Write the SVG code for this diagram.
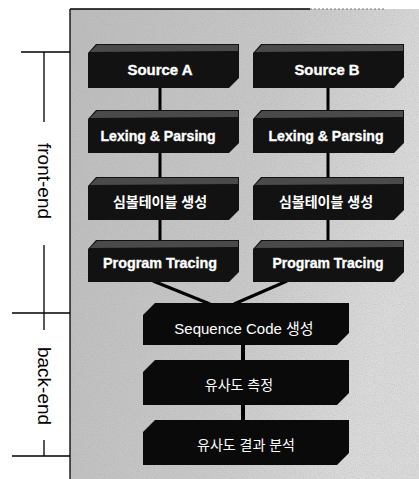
<svg xmlns="http://www.w3.org/2000/svg" width="419" height="479" viewBox="0 0 419 479">
<defs>
<linearGradient id="bg" x1="0" y1="0" x2="1" y2="0.3">
<stop offset="0" stop-color="#bcbcbc"/>
<stop offset="0.6" stop-color="#c8c8c8"/>
<stop offset="1" stop-color="#dadada"/>
</linearGradient>
<filter id="grain" x="0" y="0" width="1" height="1">
<feTurbulence type="fractalNoise" baseFrequency="0.9" numOctaves="1" seed="3" result="n"/>
<feColorMatrix in="n" type="matrix" values="0 0 0 0 0  0 0 0 0 0  0 0 0 0 0  0 0 0 -2.2 1.25" result="a"/>
<feComposite in="SourceGraphic" in2="a" operator="in"/>
</filter>
</defs>
<style>
.fb{fill:#121212}
.band{fill:#4a4a4a}
.bb{fill:#0a0a0a}
.ft{font-family:"Liberation Sans",Arial,sans-serif;font-weight:bold;font-size:14px;fill:#ffffff;stroke:#ffffff;stroke-width:0.35;text-anchor:middle}
.fk{font-family:"Liberation Sans","Noto Sans CJK KR",sans-serif;font-weight:bold;font-size:14px;fill:#ffffff;text-anchor:middle}
.bt{font-family:"Liberation Sans","Noto Sans CJK KR",sans-serif;font-size:15px;fill:#ffffff;text-anchor:middle}
.lab{font-family:"Liberation Sans",Arial,sans-serif;font-size:19px;fill:#000000;text-anchor:middle}
.ln{stroke:#000;stroke-width:1.3;fill:none}
.cn{stroke:#000;stroke-width:3;fill:none}
.cb{stroke:#000;stroke-width:4;fill:none}
</style>
<rect x="0" y="0" width="419" height="479" fill="#ffffff"/>
<rect x="70" y="9" width="349" height="470" fill="url(#bg)"/>
<rect x="70" y="9" width="349" height="470" fill="#a0a0a0" filter="url(#grain)" opacity="0.35"/>
<g id="frame">
<line class="ln" x1="70" y1="9" x2="70" y2="479"/>
<line class="ln" x1="70" y1="9" x2="310" y2="9"/>
<line x1="310" y1="9" x2="385" y2="9" stroke="#777" stroke-width="1" stroke-dasharray="2 2"/>
</g>
<g id="scale">
<line class="ln" x1="21" y1="52" x2="70" y2="52"/>
<line class="ln" x1="44" y1="52" x2="44" y2="122"/>
<line class="ln" x1="44" y1="245" x2="44" y2="330"/>
<line class="ln" x1="12" y1="313" x2="70" y2="313"/>
<line class="ln" x1="44" y1="440" x2="44" y2="456"/>
<line class="ln" x1="12" y1="456" x2="70" y2="456"/>
<text class="lab" transform="translate(44,181) rotate(90)" dy="6">front-end</text>
<text class="lab" transform="translate(44,386) rotate(90)" dy="6">back-end</text>
</g>
<g id="connectors">
<line class="cn" x1="160" y1="88" x2="160" y2="110"/>
<line class="cn" x1="160" y1="153" x2="160" y2="177"/>
<line class="cn" x1="160" y1="220" x2="160" y2="240"/>
<line class="cn" x1="328" y1="88" x2="328" y2="110"/>
<line class="cn" x1="328" y1="153" x2="328" y2="177"/>
<line class="cn" x1="328" y1="220" x2="328" y2="240"/>
<line class="cn" x1="153" y1="281" x2="210" y2="304"/>
<line class="cn" x1="287" y1="281" x2="234" y2="304"/>
<line class="cb" x1="243" y1="344" x2="243" y2="361"/>
<line class="cb" x1="243" y1="404" x2="243" y2="421"/>
</g>
<g id="srcA">
<polygon class="fb" points="88,53 96,44 239,44 239,78 229,88 88,88"/>
<polygon class="band" points="90,52 97,45 238,45 238,51"/>
<text class="ft" x="160" y="75" textLength="65" lengthAdjust="spacingAndGlyphs">Source A</text>
</g>
<g id="srcB">
<polygon class="fb" points="253,53 261,44 404,44 404,77 394,88 253,88"/>
<polygon class="band" points="255,52 262,45 403,45 403,51"/>
<text class="ft" x="327" y="75" textLength="65" lengthAdjust="spacingAndGlyphs">Source B</text>
</g>
<g id="lexA">
<polygon class="fb" points="88,119 96,110 239,110 239,143 229,153 88,153"/>
<polygon class="band" points="90,118 97,111 238,111 238,117"/>
<text class="ft" x="158" y="141" textLength="115" lengthAdjust="spacingAndGlyphs">Lexing &amp; Parsing</text>
</g>
<g id="lexB">
<polygon class="fb" points="253,119 261,110 404,110 404,143 394,153 253,153"/>
<polygon class="band" points="255,118 262,111 403,111 403,117"/>
<text class="ft" x="326" y="141" textLength="115" lengthAdjust="spacingAndGlyphs">Lexing &amp; Parsing</text>
</g>
<g id="symA">
<polygon class="fb" points="88,186 96,177 239,177 239,210 229,220 88,220"/>
<polygon class="band" points="90,185 97,178 238,178 238,184"/>
<text class="fk" x="160" y="207">심볼테이블 생성</text>
</g>
<g id="symB">
<polygon class="fb" points="253,186 261,177 404,177 404,210 394,220 253,220"/>
<polygon class="band" points="255,185 262,178 403,178 403,184"/>
<text class="fk" x="326" y="207">심볼테이블 생성</text>
</g>
<g id="traceA">
<polygon class="fb" points="88,249 96,240 239,240 239,272 229,282 88,282"/>
<polygon class="band" points="90,248 97,241 238,241 238,247"/>
<text class="ft" x="160" y="268" textLength="114" lengthAdjust="spacingAndGlyphs">Program Tracing</text>
</g>
<g id="traceB">
<polygon class="fb" points="253,249 261,240 404,240 404,272 394,282 253,282"/>
<polygon class="band" points="255,248 262,241 403,241 403,247"/>
<text class="ft" x="328" y="268" textLength="111" lengthAdjust="spacingAndGlyphs">Program Tracing</text>
</g>
<g id="seq">
<polygon class="bb" points="143,315 155,303 349,303 349,333 337,345 143,345"/>
<text class="bt" x="244" y="334">Sequence Code 생성</text>
</g>
<g id="sim">
<polygon class="bb" points="143,372 155,360 349,360 349,393 337,405 143,405"/>
<text class="bt" x="239" y="390" style="font-size:14px">유사도 측정</text>
</g>
<g id="res">
<polygon class="bb" points="143,432 155,420 349,420 349,453 337,465 143,465"/>
<text class="bt" x="246" y="450" style="font-size:14px">유사도 결과 분석</text>
</g>
</svg>
